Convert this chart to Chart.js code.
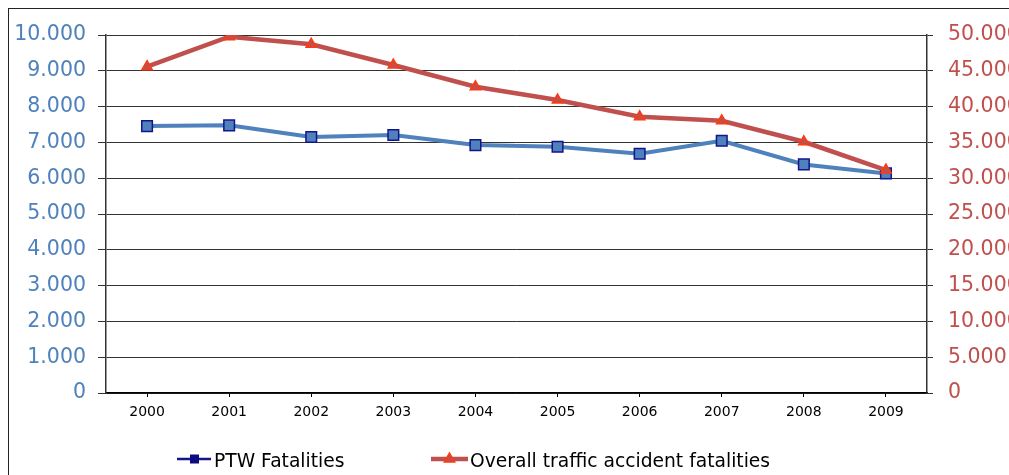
<!DOCTYPE html>
<html>
<head>
<meta charset="utf-8">
<script src="https://cdn.jsdelivr.net/npm/chart.js@4.4.1/dist/chart.umd.min.js"></script>
<style>
  html, body { margin: 0; padding: 0; background: #fff; }
  #wrap { width: 1009px; height: 475px; position: relative; }
</style>
</head>
<body>
<div id="wrap"><canvas id="c" width="1009" height="475"></canvas></div>
<script>
const years = ['2000','2001','2002','2003','2004','2005','2006','2007','2008','2009'];
const ptwFatalities = [7456, 7476, 7149, 7205, 6925, 6877, 6682, 7045, 6385, 6134];
const overallFatalities = [45570, 49760, 48700, 45810, 42770, 40910, 38580, 38020, 35090, 31130];
const seriesNames = ['PTW Fatalities', 'Overall traffic accident fatalities'];
const leftTicks = { min: 0, max: 10000, step: 1000 };
const rightTicks = { min: 0, max: 50000, step: 5000 };

const BLUE = '#4F81BD';
const RED = '#C0504D';
const FONT = 'DejaVu Sans';

function fmt(v) {
  return String(v).replace(/\B(?=(\d{3})+(?!\d))/g, '.');
}

const framePlugin = {
  id: 'frame',
  beforeDraw(chart) {
    const ctx = chart.ctx;
    ctx.save();
    ctx.fillStyle = '#fff';
    ctx.fillRect(0, 0, chart.width, chart.height);
    ctx.strokeStyle = '#222';
    ctx.lineWidth = 1;
    ctx.strokeRect(8.5, 8.5, 2000, 2000);
    ctx.restore();
  }
};

const legendPlugin = {
  id: 'customLegend',
  afterDraw(chart) {
    const ctx = chart.ctx;
    const y = 459;
    ctx.save();
    // item 1
    ctx.strokeStyle = '#16168A';
    ctx.lineWidth = 2.5;
    ctx.beginPath(); ctx.moveTo(177, y); ctx.lineTo(211, y); ctx.stroke();
    ctx.fillStyle = '#0C0C80';
    ctx.fillRect(190, y - 4.5, 9, 9);
    ctx.fillStyle = '#000';
    ctx.font = '18.7px "' + FONT + '"';
    ctx.textBaseline = 'alphabetic';
    ctx.textAlign = 'left';
    ctx.fillText(seriesNames[0], 214, 466.5);
    // item 2
    ctx.strokeStyle = RED;
    ctx.lineWidth = 4.5;
    ctx.beginPath(); ctx.moveTo(431, y); ctx.lineTo(468, y); ctx.stroke();
    const cx = 449.5, cy = y, r = 6;
    ctx.beginPath();
    ctx.moveTo(cx, cy - r);
    ctx.lineTo(cx + r * Math.sin(Math.PI * 2 / 3), cy + r / 2);
    ctx.lineTo(cx - r * Math.sin(Math.PI * 2 / 3), cy + r / 2);
    ctx.closePath();
    ctx.fillStyle = RED; ctx.fill();
    ctx.strokeStyle = '#FF3A10'; ctx.lineWidth = 1.5; ctx.stroke();
    ctx.fillStyle = '#000';
    ctx.fillText(seriesNames[1], 470, 466.5);
    ctx.restore();
  }
};

new Chart(document.getElementById('c'), {
  type: 'line',
  data: {
    labels: years,
    datasets: [
      {
        label: seriesNames[0],
        data: ptwFatalities,
        yAxisID: 'y',
        order: 1,
        borderColor: BLUE,
        borderWidth: 4,
        pointStyle: 'rect',
        pointRadius: 7.5,
        pointHoverRadius: 7.5,
        pointBackgroundColor: BLUE,
        pointBorderColor: '#14148C',
        pointBorderWidth: 1.5,
        tension: 0
      },
      {
        label: seriesNames[1],
        data: overallFatalities,
        yAxisID: 'y1',
        order: 0,
        borderColor: RED,
        borderWidth: 4.5,
        pointStyle: 'triangle',
        pointRadius: 6,
        pointHoverRadius: 6,
        pointBackgroundColor: RED,
        pointBorderColor: '#FF3A10',
        pointBorderWidth: 1.5,
        tension: 0
      }
    ]
  },
  options: {
    responsive: false,
    animation: false,
    devicePixelRatio: 1,
    layout: { padding: { top: 35, left: 0, right: 0, bottom: 0 } },
    plugins: { legend: { display: false }, tooltip: { enabled: false } },
    scales: {
      x: {
        type: 'category',
        offset: true,
        grid: { display: true, drawOnChartArea: false, drawTicks: true, tickLength: 4, color: '#000', lineWidth: 1 },
        border: { display: true, color: '#000', width: 1.5 },
        ticks: { color: '#000', font: { family: FONT, size: 14 }, padding: 7, maxRotation: 0, autoSkip: false },
        afterFit(s) { s.height = 82; }
      },
      y: {
        position: 'left',
        min: leftTicks.min, max: leftTicks.max,
        grid: { color: '#333', lineWidth: 1, tickLength: 8, drawTicks: true },
        border: { display: true, color: '#333', width: 1.5 },
        ticks: { stepSize: leftTicks.step, color: BLUE, font: { family: FONT, size: 20.5 }, padding: 12, callback: v => fmt(v) },
        afterFit(s) { s.width = 106; }
      },
      y1: {
        position: 'right',
        min: rightTicks.min, max: rightTicks.max,
        grid: { drawOnChartArea: false, color: '#333', tickLength: 6, drawTicks: true },
        border: { display: true, color: '#333', width: 1.5 },
        ticks: { stepSize: rightTicks.step, color: RED, font: { family: FONT, size: 20.5 }, padding: 15, callback: v => fmt(v) },
        afterFit(s) { s.width = 82; }
      }
    }
  },
  plugins: [framePlugin, legendPlugin]
});
</script>
</body>
</html>
